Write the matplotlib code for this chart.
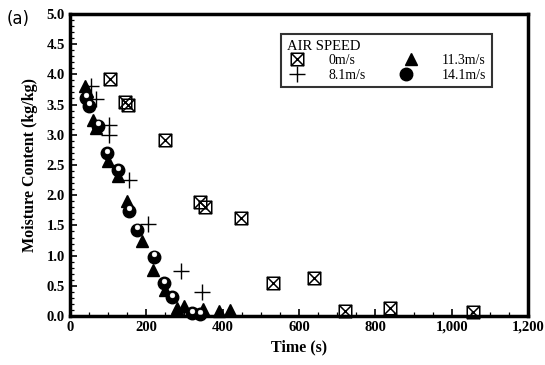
import matplotlib
matplotlib.use("Agg")
import matplotlib.pyplot as plt
from matplotlib.path import Path
from matplotlib.legend_handler import HandlerTuple
from matplotlib.ticker import MultipleLocator, FuncFormatter

# Data (time s, moisture kg/kg)
t_0 = [105, 145, 153, 250, 340, 353, 449, 533, 640, 721, 838, 1057]
m_0 = [3.92, 3.55, 3.49, 2.92, 1.88, 1.80, 1.63, 0.55, 0.63, 0.08, 0.14, 0.07]

t_81 = [55, 70, 102, 102, 154, 206, 291, 347]
m_81 = [3.80, 3.59, 3.16, 3.00, 2.25, 1.53, 0.74, 0.40]

t_113 = [39, 45, 61, 70, 101, 125, 149, 189, 218, 250, 281, 300, 349, 390, 419]
m_113 = [3.80, 3.72, 3.24, 3.12, 2.57, 2.32, 1.91, 1.25, 0.76, 0.43, 0.13, 0.17, 0.12, 0.09, 0.10]

t_141 = [42, 51, 75, 98, 125, 156, 177, 221, 247, 268, 320, 342]
m_141 = [3.61, 3.48, 3.15, 2.69, 2.41, 1.74, 1.43, 0.98, 0.54, 0.31, 0.05, 0.03]

labels = ["0m/s", "8.1m/s", "11.3m/s", "14.1m/s"]

plt.rcParams['font.family'] = ['Liberation Serif', 'DejaVu Serif']

box_x = Path([(-1, -1), (1, -1), (1, 1), (-1, 1), (-1, -1),
              (-1, -1), (1, 1), (-1, 1), (1, -1)],
             [Path.MOVETO, Path.LINETO, Path.LINETO, Path.LINETO, Path.CLOSEPOLY,
              Path.MOVETO, Path.LINETO, Path.MOVETO, Path.LINETO])

fig = plt.figure(figsize=(5.45, 3.65), dpi=100)
ax = fig.add_axes([0.128, 0.134, 0.841, 0.828])

h0, = ax.plot(t_0, m_0, linestyle='none', marker=box_x, markersize=9,
              markerfacecolor='none', markeredgecolor='black', markeredgewidth=1.1, clip_on=False)
h1, = ax.plot(t_81, m_81, linestyle='none', marker='+', markersize=12,
              color='black', markeredgewidth=1.0, clip_on=False)
h2, = ax.plot(t_113, m_113, linestyle='none', marker='^', markersize=9,
              color='black', clip_on=False)
h3a, = ax.plot(t_141, m_141, linestyle='none', marker='o', markersize=9,
               color='black', clip_on=False)
h3b, = ax.plot(t_141, [v + 0.04 for v in m_141], linestyle='none', marker='o', markersize=3.5,
               markerfacecolor='white', markeredgecolor='white', markeredgewidth=0.3, clip_on=False)

ax.set_xlim(0, 1200)
ax.set_ylim(0, 5.0)
ax.xaxis.set_major_locator(MultipleLocator(200))
ax.xaxis.set_minor_locator(MultipleLocator(50))
ax.yaxis.set_major_locator(MultipleLocator(0.5))
ax.yaxis.set_minor_locator(MultipleLocator(0.1))
ax.xaxis.set_major_formatter(FuncFormatter(lambda v, p: f"{int(v):,}"))
ax.yaxis.set_major_formatter(FuncFormatter(lambda v, p: f"{v:.1f}"))
ax.tick_params(which='both', direction='in', top=False, right=False, labelsize=10.5)
ax.tick_params(which='major', length=5, width=1.2)
ax.tick_params(which='minor', length=3, width=0.9)
for lab in ax.get_xticklabels() + ax.get_yticklabels():
    lab.set_fontweight('bold')
for s in ax.spines.values():
    s.set_linewidth(2.5)

ax.set_xlabel("Time (s)", fontsize=11.5, fontweight='bold', labelpad=4)
ax.set_ylabel("Moisture Content (kg/kg)", fontsize=11.5, fontweight='bold', labelpad=6)

fig.text(0.012, 0.948, "(a)", fontsize=12, fontfamily='DejaVu Sans', ha='left', va='center')

leg = ax.legend([h0, h1, h2, (h3a, h3b)], labels, ncol=2, title="AIR SPEED",
                handler_map={tuple: HandlerTuple(ndivide=None, pad=0)},
                loc='upper left', bbox_to_anchor=(0.446, 0.955), frameon=True,
                fancybox=False, edgecolor='black', fontsize=10, title_fontsize=10.5,
                handlelength=1.5, handletextpad=1.5, columnspacing=2.5,
                labelspacing=0.1, borderpad=0.4, alignment='left')
leg.get_frame().set_linewidth(1.5)

fig.savefig("out.png", dpi=100)
